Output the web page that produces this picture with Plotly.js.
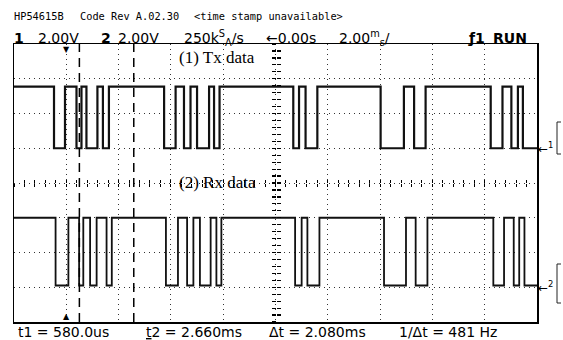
<!DOCTYPE html>
<html><head><meta charset="utf-8">
<script src="https://cdn.plot.ly/plotly-3.0.1.min.js"></script>
<style>html,body{margin:0;padding:0;background:#fff;} #chart{width:563px;height:340px;}</style>
</head><body><div id="chart"></div>
<script>
// ---------------- data (time in ms; 2 ms/div; 0 at screen centre) ----------------
const timeRange = [-10, 10];
const txEdges = [-8.47, -8.05, -7.61, -7.42, -7.23, -6.81, -6.60, -6.37,
                 -4.26, -3.82, -3.50, -3.25, -3.00, -2.54, -2.35, -2.14,
                  0.68,  0.90,  1.15,  1.60,
                  4.02,  4.91,  5.30,  5.74,
                  8.23,  8.68,  9.02,  9.27,  9.46];
const rxEdges = [-8.41, -7.92, -7.51, -7.35, -7.09, -6.84, -6.46, -6.26,
                 -4.19, -3.73, -3.38, -3.14, -2.89, -2.48, -2.26, -2.07,
                  0.75,  1.00,  1.22,  1.68,
                  4.15,  4.99,  5.36,  5.81,
                  8.33,  8.74,  9.11,  9.32,  9.52];
const txLevels = [3.55, 0.0];   // volts: high, low
const rxLevels = [4.0, 0.1];
const ch1Range = [-10, 6];      // 2 V/div, ground 1 div above centre
const ch2Range = [-2, 14];      // 2 V/div, ground 3 div below centre
const cursorTimes = [-7.50, -5.42];
const trigMarkTime = -8;
const seriesLabels = ['(1) Tx data', '(2) Rx data'];
const header1 = ['HP54615B', 'Code Rev A.02.30', '&lt;time stamp unavailable&gt;'];
const header2 = ['<b>1</b>', '2.00V', '<b>2</b>', '2.00V', '250k<sup>S</sup><sub>A</sub>/s', '←0.00s', '2.00<sup>m</sup><sub>s</sub>/', '<b>ƒ1</b>', '<b>RUN</b>'];
const footer = ['t1 = 580.0us', '<span style="text-decoration:underline">t</span>2 = 2.660ms', 'Δt = 2.080ms', '1/Δt = 481 Hz'];

// ---------------- helpers ----------------
function steps(edges, levels) {
  const x = [timeRange[0]], y = [levels[0]];
  let s = 0;
  edges.forEach(e => { s = 1 - s; x.push(e); y.push(levels[s]); });
  x.push(timeRange[1]); y.push(levels[s]);
  return {x, y};
}
const L = 14, R = 537, T = 44, B = 322;
const px = x => (x - L) / (R - L);
const py = y => (B - y) / (B - T);

const tx = steps(txEdges, txLevels);
const rx = steps(rxEdges, rxLevels);

const blank = (xa, ya) => ({x: [timeRange[0]], y: [null], xaxis: xa, yaxis: ya, mode: 'lines',
  line: {width: 0}, hoverinfo: 'skip', showlegend: false});

const traces = [
  {x: tx.x, y: tx.y, xaxis: 'x', yaxis: 'y', mode: 'lines', line: {shape: 'hv', color: '#111', width: 2.2}, hoverinfo: 'skip'},
  {x: rx.x, y: rx.y, xaxis: 'x', yaxis: 'y2', mode: 'lines', line: {shape: 'hv', color: '#111', width: 1.8}, hoverinfo: 'skip'},
  blank('x2', 'y'), blank('x3', 'y'), blank('x', 'y3'), blank('x', 'y4')
];

const gridCommon = {showgrid: true, gridcolor: '#333', gridwidth: 1, griddash: '1px,4px', zeroline: false,
  showline: true, mirror: true, linecolor: '#000', linewidth: 1.5, ticks: '', showticklabels: false, fixedrange: true};
const tickAxis = (extra) => Object.assign({showgrid: false, zeroline: false, showline: false, showticklabels: false,
  anchor: 'free', position: 0.5, ticklen: 3, tickwidth: 1, tickcolor: '#000', tick0: 0, fixedrange: true}, extra);

const ann = [];
const F1 = {family: 'DejaVu Sans Mono', size: 10.3, color: '#000'};
const F2 = {family: 'DejaVu Sans', size: 14, color: '#000'};
const add = (text, x, y, font, xa) => ann.push({text, x: px(x), y: py(y), xref: 'paper', yref: 'paper',
  xanchor: xa || 'left', yanchor: 'middle', showarrow: false, font, borderpad: 0});

[13, 79, 193].forEach((x, i) => add(header1[i], x, 16.5, F1));
[13, 37, 100, 117, 183, 265, 338, 467, 492].forEach((x, i) => add(header2[i], x, 38, F2));
[17, 145, 268, 398].forEach((x, i) => add(footer[i], x, 332, F2));

const FS = {family: 'Liberation Serif', size: 17, color: '#000'};
add(seriesLabels[0], 178, 57, FS);
add(seriesLabels[1], 178, 182, FS);

// ground markers
ann.push({text: '←<sup>1</sup>', xref: 'paper', x: 1, xanchor: 'left', yref: 'y', y: 0, yanchor: 'middle',
  showarrow: false, font: {family: 'DejaVu Sans', size: 12, color: '#000'}, borderpad: 0});
ann.push({text: '←<sup>2</sup>', xref: 'paper', x: 1, xanchor: 'left', yref: 'y2', y: 0, yanchor: 'middle',
  showarrow: false, font: {family: 'DejaVu Sans', size: 12, color: '#000'}, borderpad: 0});
// time-reference triangles
ann.push({text: '▼', xref: 'x', x: trigMarkTime, yref: 'paper', y: 1, yanchor: 'top', showarrow: false,
  font: {family: 'DejaVu Sans', size: 8, color: '#000'}, borderpad: 0});
ann.push({text: '▲', xref: 'x', x: trigMarkTime, yref: 'paper', y: 0, yanchor: 'bottom', showarrow: false,
  font: {family: 'DejaVu Sans', size: 8, color: '#000'}, borderpad: 0});

const shapes = cursorTimes.map(t => ({type: 'line', xref: 'x', yref: 'paper', x0: t, x1: t, y0: 0, y1: 1,
  line: {color: '#000', width: 1.5, dash: '9px,6px'}}));
// margin marks at right
const bracket = (y1, y2) => ({type: 'path', xref: 'paper', yref: 'paper',
  path: `M ${px(561)} ${py(y1)} L ${px(557)} ${py(y1)} L ${px(557)} ${py(y2)} L ${px(561)} ${py(y2)}`,
  line: {color: '#222', width: 1}});
shapes.push(bracket(122, 154), bracket(264, 303));

const layout = {
  width: 563, height: 340,
  margin: {l: L, r: 563 - R, t: T, b: 340 - B, pad: 0},
  paper_bgcolor: '#fff', plot_bgcolor: '#fff', showlegend: false,
  xaxis: Object.assign({range: timeRange, dtick: 2, tick0: 0}, gridCommon),
  yaxis: Object.assign({range: ch1Range, dtick: 2, tick0: 0}, gridCommon),
  yaxis2: {range: ch2Range, overlaying: 'y', showgrid: false, zeroline: false, showticklabels: false, ticks: '', showline: false, fixedrange: true},
  xaxis2: tickAxis({range: timeRange, overlaying: 'x', ticks: 'inside', dtick: 0.4}),
  xaxis3: tickAxis({range: timeRange, overlaying: 'x', ticks: 'outside', dtick: 0.4}),
  yaxis3: tickAxis({range: ch1Range, overlaying: 'y', ticks: 'inside', dtick: 0.4, ticklen: 4, tickwidth: 1.2}),
  yaxis4: tickAxis({range: ch1Range, overlaying: 'y', ticks: 'outside', dtick: 0.4, ticklen: 4, tickwidth: 1.2}),
  annotations: ann, shapes: shapes
};

Plotly.newPlot('chart', traces, layout, {staticPlot: true, displayModeBar: false});
</script>
</body></html>
